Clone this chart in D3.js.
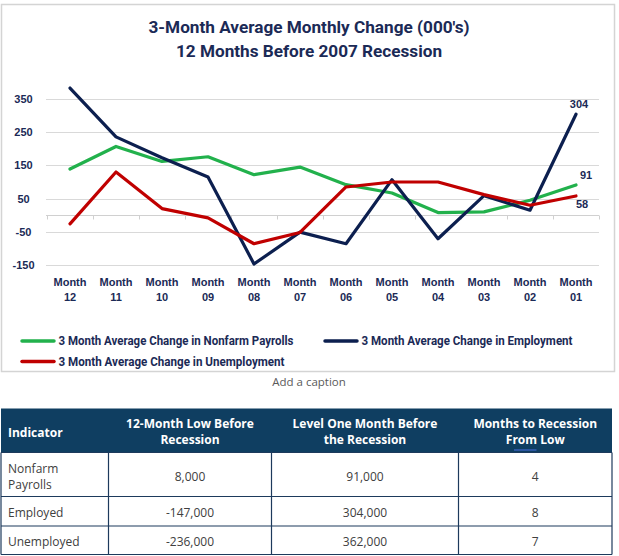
<!DOCTYPE html>
<html>
<head>
<meta charset="utf-8">
<script src="https://cdn.jsdelivr.net/npm/d3@7"></script>
<style>
  html, body { margin: 0; padding: 0; background: #ffffff; }
  svg { display: block; }
</style>
</head>
<body>
<svg id="chart" width="619" height="556"></svg>
<script>
// ---------- data ----------
const categories = ["Month 12","Month 11","Month 10","Month 09","Month 08","Month 07",
                    "Month 06","Month 05","Month 04","Month 03","Month 02","Month 01"];
const payrolls     = [139, 207, 162, 176, 122, 145,  92,  67,   8,  10,  45,  91];
const employment   = [383, 236, 173, 115,-147, -51, -86, 107, -71,  59,  15, 304];
const unemployment = [-26, 130,  20,  -8, -86, -52,  85, 100, 100,  62,  30,  58];
const yTicks = [350, 250, 150, 50, -50, -150];
const seriesNames = ["3 Month Average Change in Nonfarm Payrolls",
                     "3 Month Average Change in Employment",
                     "3 Month Average Change in Unemployment"];
const titleLines = ["3-Month Average Monthly Change (000's)", "12 Months Before 2007 Recession"];
const caption = "Add a caption";
const tableHeaders = [["Indicator"], ["12-Month Low Before","Recession"],
                      ["Level One Month Before","the Recession"], ["Months to Recession","From Low"]];
const tableRows = [
  [["Nonfarm","Payrolls"], "8,000", "91,000", "4"],
  [["Employed"], "-147,000", "304,000", "8"],
  [["Unemployed"], "-236,000", "362,000", "7"]
];

// ---------- styles ----------
const navyText = "#1b2a56";
const colors = ["#22b14c", "#0c1f4f", "#c00000"];
const series = [payrolls, employment, unemployment];

const svg = d3.select("#chart");

// chart frame
svg.append("rect").attr("x", 1.5).attr("y", 4.5).attr("width", 613).attr("height", 367)
  .attr("fill", "#fff").attr("stroke", "#d4d4d4").attr("stroke-width", 1.5);

// title
const titleG = svg.append("g");
titleG.selectAll("text").data(titleLines).join("text")
  .attr("x", 309).attr("y", (d, i) => i === 0 ? 33.3 : 57.3)
  .attr("text-anchor", "middle")
  .attr("font-family", "Roboto, sans-serif").attr("font-weight", 700)
  .attr("font-size", 16.5).attr("fill", navyText)
  .attr("textLength", (d, i) => i === 0 ? 321 : 266)
  .attr("lengthAdjust", "spacingAndGlyphs")
  .text(d => d);

// scales
const x = d3.scalePoint().domain(categories).range([70, 576]);
const step = x.step();
const y = d3.scaleLinear().domain([-150, 350]).range([265, 99]);
const xLeft = 46, xRight = 599;

// gridlines
svg.append("g").selectAll("line").data(yTicks).join("line")
  .attr("x1", xLeft).attr("x2", xRight)
  .attr("y1", d => Math.round(y(d)) + 0.5).attr("y2", d => Math.round(y(d)) + 0.5)
  .attr("stroke", "#d9d9d9").attr("stroke-width", 1);

// y labels
svg.append("g").selectAll("text").data(yTicks).join("text")
  .attr("x", 23.5).attr("y", d => y(d) + 4)
  .attr("text-anchor", "middle")
  .attr("font-family", "'Liberation Sans', Arial, sans-serif").attr("font-weight", 700)
  .attr("font-size", 11).attr("fill", navyText)
  .text(d => d);

// zero axis with ticks (category boundaries)
const zeroY = Math.round(y(0)) + 0.5;
const axisG = svg.append("g");
axisG.append("line").attr("x1", xLeft).attr("x2", xRight).attr("y1", zeroY).attr("y2", zeroY)
  .attr("stroke", "#d0d0d0").attr("stroke-width", 1);
const boundaries = categories.map(c => x(c) - step / 2).concat([x(categories[categories.length - 1]) + step / 2]);
axisG.selectAll("line.tk").data(boundaries).join("line").attr("class", "tk")
  .attr("x1", d => Math.round(d) + 0.5).attr("x2", d => Math.round(d) + 0.5)
  .attr("y1", zeroY).attr("y2", zeroY + 4)
  .attr("stroke", "#d0d0d0").attr("stroke-width", 1);

// x labels (two lines)
const xl = svg.append("g").selectAll("text").data(categories).join("text")
  .attr("text-anchor", "middle")
  .attr("font-family", "'Liberation Sans', Arial, sans-serif").attr("font-weight", 700)
  .attr("font-size", 11).attr("fill", navyText);
xl.each(function(d) {
  const parts = d.split(" ");
  const t = d3.select(this);
  t.append("tspan").attr("x", x(d)).attr("y", 285.5).text(parts[0]);
  t.append("tspan").attr("x", x(d)).attr("y", 300.8).text(parts[1]);
});

// lines
const line = d3.line().x((d, i) => x(categories[i])).y(d => y(d));
svg.append("g").selectAll("path").data(series).join("path")
  .attr("d", d => line(d))
  .attr("fill", "none")
  .attr("stroke", (d, i) => colors[i])
  .attr("stroke-width", 3.2)
  .attr("stroke-linejoin", "round")
  .attr("stroke-linecap", "round");

// end labels
const last = categories.length - 1;
const endLabels = [
  { v: payrolls[last], dx: 10, dy: -5.5 },
  { v: employment[last], dx: 3, dy: -6 },
  { v: unemployment[last], dx: 6, dy: 12.5 }
];
svg.append("g").selectAll("text").data(endLabels).join("text")
  .attr("x", d => x(categories[last]) + d.dx)
  .attr("y", d => y(d.v) + d.dy)
  .attr("text-anchor", "middle")
  .attr("font-family", "'Liberation Sans', Arial, sans-serif").attr("font-weight", 700)
  .attr("font-size", 11).attr("fill", navyText)
  .text(d => d.v);

// legend
const legendItems = [
  { name: seriesNames[0], color: colors[0], x: 22, y: 341, w: 235 },
  { name: seriesNames[1], color: colors[1], x: 325, y: 341, w: 211 },
  { name: seriesNames[2], color: colors[2], x: 22, y: 361.5, w: 226 }
];
const lg = svg.append("g").selectAll("g").data(legendItems).join("g");
lg.append("line")
  .attr("x1", d => d.x).attr("x2", d => d.x + 32)
  .attr("y1", d => d.y).attr("y2", d => d.y)
  .attr("stroke", d => d.color).attr("stroke-width", 3.5).attr("stroke-linecap", "round");
lg.append("text")
  .attr("x", d => d.x + 36.5).attr("y", d => d.y + 4.3)
  .attr("font-family", "Roboto, sans-serif").attr("font-weight", 700)
  .attr("font-size", 12.5).attr("fill", navyText)
  .attr("textLength", d => d.w).attr("lengthAdjust", "spacingAndGlyphs")
  .text(d => d.name);

// caption
svg.append("text").attr("x", 309).attr("y", 386)
  .attr("text-anchor", "middle")
  .attr("font-family", "'Open Sans', sans-serif").attr("font-size", 11.5)
  .attr("fill", "#5a5a5a").text(caption);

// ---------- table ----------
const colEdges = [1, 108.5, 271.5, 458.5, 612];
const rowEdges = [408.5, 452.5, 496.5, 526, 554.5];
const tg = svg.append("g");
tg.append("rect").attr("x", colEdges[0]).attr("y", rowEdges[0])
  .attr("width", colEdges[4] - colEdges[0]).attr("height", rowEdges[1] - rowEdges[0])
  .attr("fill", "#0f3e61");
const borderColor = "#1d3a5c";
// horizontal lines
tg.selectAll("line.h").data(rowEdges.slice(1)).join("line").attr("class", "h")
  .attr("x1", colEdges[0]).attr("x2", colEdges[4]).attr("y1", d => d).attr("y2", d => d)
  .attr("stroke", borderColor).attr("stroke-width", 1.2);
// vertical lines (body)
tg.selectAll("line.v").data(colEdges).join("line").attr("class", "v")
  .attr("x1", d => d).attr("x2", d => d).attr("y1", rowEdges[1]).attr("y2", rowEdges[4])
  .attr("stroke", borderColor).attr("stroke-width", 1.2);

const colCenter = i => (colEdges[i] + colEdges[i + 1]) / 2;
// header text
tableHeaders.forEach((lines, ci) => {
  const t = tg.append("text")
    .attr("font-family", "'Open Sans', sans-serif").attr("font-weight", 700)
    .attr("font-size", 12).attr("fill", "#ffffff")
    .attr("text-anchor", ci === 0 ? "start" : "middle");
  const xx = ci === 0 ? 8 : colCenter(ci);
  const ys = lines.length === 1 ? [436.5] : [427.5, 443.5];
  lines.forEach((ln, li) => t.append("tspan").attr("x", xx).attr("y", ys[li]).text(ln));
});
// spell-check underline under "From"
tg.append("line").attr("x1", 514).attr("x2", 536.5).attr("y1", 450).attr("y2", 450)
  .attr("stroke", "#4a6ee0").attr("stroke-width", 1);

// body text
tableRows.forEach((row, ri) => {
  const top = rowEdges[ri + 1], bot = rowEdges[ri + 2];
  const mid = (top + bot) / 2;
  row.forEach((cell, ci) => {
    const t = tg.append("text")
      .attr("font-family", "'Open Sans', sans-serif").attr("font-size", 12)
      .attr("fill", "#404040")
      .attr("text-anchor", ci === 0 ? "start" : "middle");
    const xx = ci === 0 ? 8 : colCenter(ci);
    const lines = Array.isArray(cell) ? cell : [cell];
    const lh = 15.8;
    lines.forEach((ln, li) => {
      const yy = mid + 6.2 + (li - (lines.length - 1) / 2) * lh;
      t.append("tspan").attr("x", xx).attr("y", yy).text(ln);
    });
  });
});
</script>
</body>
</html>
